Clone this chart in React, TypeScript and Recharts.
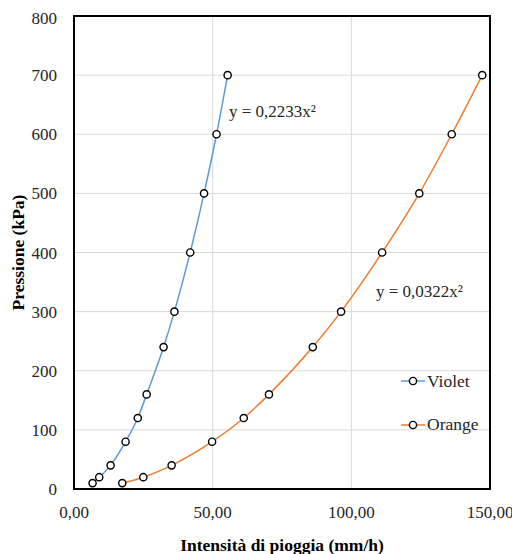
import { LineChart, Line, XAxis, YAxis, CartesianGrid, ReferenceArea } from 'recharts';

const violetX = [6.7, 9.1, 13.2, 18.6, 23.0, 26.2, 32.3, 36.2, 41.9, 46.9, 51.4, 55.4];
const violetY = [10, 20, 40, 80, 120, 160, 240, 300, 400, 500, 600, 700];
const orangeX = [17.4, 25.0, 35.2, 49.8, 61.2, 70.3, 86.1, 96.3, 111.1, 124.5, 136.2, 147.2];
const orangeY = [10, 20, 40, 80, 120, 160, 240, 300, 400, 500, 600, 700];
const xTicks = [0, 50, 100, 150];
const yTicks = [0, 100, 200, 300, 400, 500, 600, 700, 800];

const violet = violetX.map((x, i) => ({ x, y: violetY[i] }));
const orange = orangeX.map((x, i) => ({ x, y: orangeY[i] }));

const font = '"Liberation Serif", serif';
const dot = { r: 3.6, stroke: '#000', strokeWidth: 1.4, fill: '#fff' };

const legendItems = [
  { name: 'Violet', color: '#5B9BD5' },
  { name: 'Orange', color: '#ED7D31' },
];

function LegendBox() {
  return (
    <div style={{ position: 'absolute', left: 393, top: 363, fontFamily: font, fontSize: 17.5, color: '#262626' }}>
      {legendItems.map((it) => (
        <div key={it.name} style={{ display: 'flex', alignItems: 'center', height: 20, marginBottom: 23.5 }}>
          <svg width={24} height={12} style={{ marginRight: 2 }}>
            <line x1={0} y1={6} x2={24} y2={6} stroke={it.color} strokeWidth={1.5} />
            <circle cx={12} cy={6} r={3.6} stroke="#000" strokeWidth={1.4} fill="#fff" />
          </svg>
          <span>{it.name}</span>
        </div>
      ))}
    </div>
  );
}

export default function App() {
  return (
    <div style={{ position: 'relative', width: 512, height: 546, fontFamily: font }}>
      <LineChart width={512} height={546} margin={{ top: 8, right: 30, left: 0, bottom: 0 }}>
        <CartesianGrid stroke="#d9d9d9" horizontalValues={yTicks} verticalValues={xTicks} />
        <XAxis
          type="number"
          dataKey="x"
          domain={[0, 150]}
          ticks={xTicks}
          height={65}
          tickFormatter={(v) => v.toFixed(2).replace('.', ',')}
          tick={{ fontSize: 17, fill: '#262626', fontFamily: font }}
          axisLine={{ stroke: '#000', strokeWidth: 2 }}
          tickLine={false}
          tickSize={8}
          tickMargin={9}
          label={{ value: 'Intensità di pioggia (mm/h)', position: 'insideBottom', offset: 3, style: { fontSize: 17.5, fontWeight: 'bold', fill: '#000', fontFamily: font } }}
        />
        <YAxis
          type="number"
          dataKey="y"
          domain={[0, 800]}
          ticks={yTicks}
          width={66}
          tick={{ fontSize: 17, fill: '#262626', fontFamily: font }}
          axisLine={{ stroke: '#000', strokeWidth: 2 }}
          tickLine={false}
          tickSize={8}
          tickMargin={9}
          label={{ value: 'Pressione (kPa)', angle: -90, position: 'insideLeft', offset: 10, style: { textAnchor: 'middle', fontSize: 17.5, fontWeight: 'bold', fill: '#000', fontFamily: font } }}
        />
        <ReferenceArea x1={0} x2={150} y1={0} y2={800} fill="none" stroke="#000" strokeWidth={2} />
        <Line data={violet} dataKey="y" name="Violet" type="monotone" stroke="#5B9BD5" strokeWidth={1.5} dot={dot} activeDot={false} isAnimationActive={false} />
        <Line data={orange} dataKey="y" name="Orange" type="monotone" stroke="#ED7D31" strokeWidth={1.5} dot={dot} activeDot={false} isAnimationActive={false} />
      </LineChart>
      <LegendBox />
      <div style={{ position: 'absolute', left: 221, top: 94, fontSize: 17, color: '#262626', whiteSpace: 'nowrap' }}>y = 0,2233x²</div>
      <div style={{ position: 'absolute', left: 368, top: 274, fontSize: 17, color: '#262626', whiteSpace: 'nowrap' }}>y = 0,0322x²</div>
    </div>
  );
}
